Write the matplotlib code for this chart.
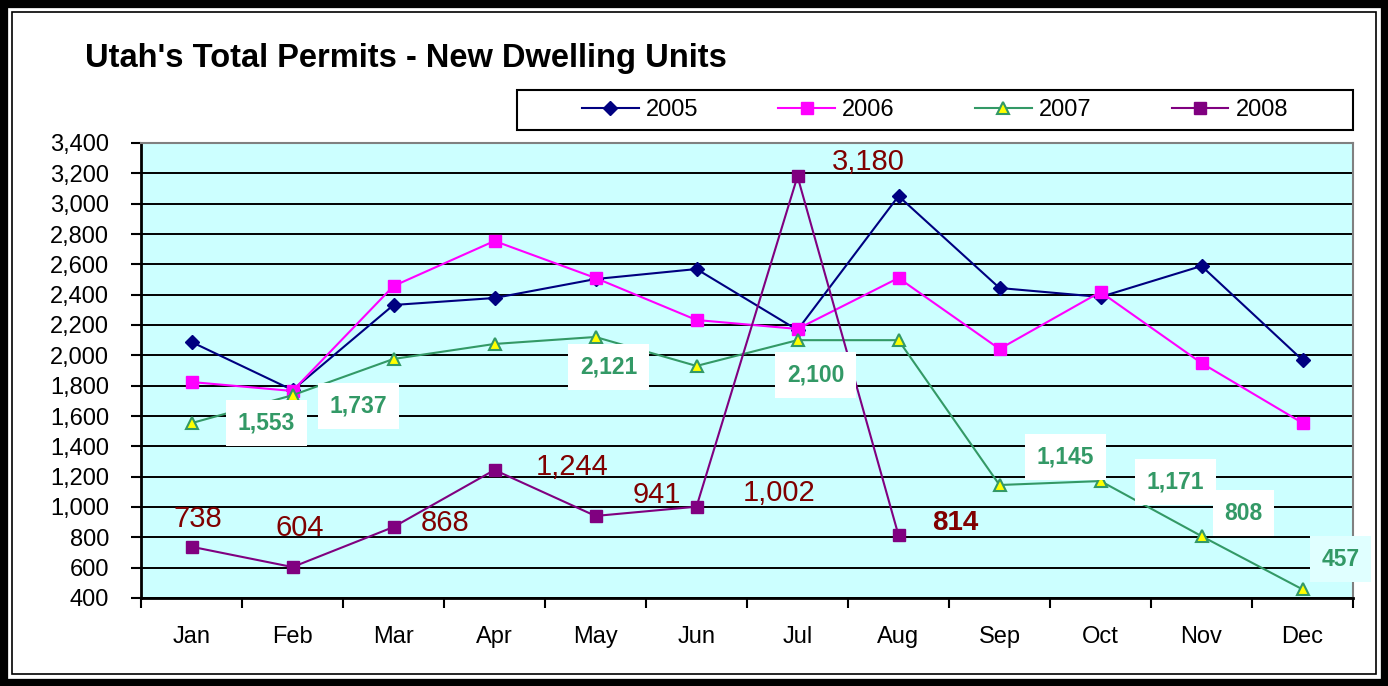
import numpy as np
import matplotlib
matplotlib.use('Agg')
import matplotlib.pyplot as plt
from matplotlib.patches import Rectangle
from matplotlib.ticker import FuncFormatter, FixedLocator

plt.rcParams['font.family'] = ['Liberation Sans', 'DejaVu Sans']

# data
months = ['Jan', 'Feb', 'Mar', 'Apr', 'May', 'Jun', 'Jul', 'Aug', 'Sep', 'Oct', 'Nov', 'Dec']
y2005 = [2088, 1771, 2332, 2378, 2503, 2569, 2167, 3050, 2444, 2385, 2589, 1969]
y2006 = [1824, 1765, 2457, 2754, 2510, 2233, 2174, 2510, 2042, 2418, 1949, 1554]
y2007 = [1553, 1737, 1976, 2075, 2121, 1930, 2100, 2100, 1145, 1171, 808, 457]
y2008 = [738, 604, 868, 1244, 941, 1002, 3180, 814]

# which 2007 points carry a label, and where the labels sit (pixels)
lab2007 = [0, 1, 4, 6, 8, 9, 10, 11]
off2007 = [(75, 0), (66, -11), (13, -30), (18, -35), (66, 28), (75, -1), (42, 23), (38, 30)]
off2008 = [(6, 28), (7, 39), (52, 4), (78, 3), (61, 21), (83, 14), (71, 14), (57, 12)]

fig = plt.figure(figsize=(13.88, 6.86), dpi=100)
ax = fig.add_axes([141 / 1388, 1 - 598 / 686, 1212 / 1388, 455 / 686])
ax.set_facecolor('#ccffff')

x = np.arange(len(months))
ax.plot(x, y2005, color='#000080', lw=1.5, marker='D', ms=7.5, label='2005', zorder=3)
ax.plot(x, y2006, color='#ff00ff', lw=1.5, marker='s', ms=9, label='2006', zorder=3)
ax.plot(x, y2007, color='#339966', lw=1.5, marker='^', ms=9, mfc='#ffff00', mec='#339966',
        mew=1.5, label='2007', zorder=3)
ax.plot(x[:len(y2008)], y2008, color='#800080', lw=1.5, marker='s', ms=8, label='2008', zorder=3)

for i, (dx, dy) in zip(lab2007, off2007):
    fc = '#e0ffff' if i == 11 else 'white'
    ax.annotate(f'{y2007[i]:,}', (x[i], y2007[i]), xytext=(dx, dy), textcoords='offset pixels',
                ha='center', va='center', color='#339966', fontsize=16.5, fontweight='bold',
                bbox=dict(boxstyle='square,pad=0.5', fc=fc, ec='none'), zorder=5,
                annotation_clip=False)

for i, (dx, dy) in enumerate(off2008):
    last = i == len(y2008) - 1
    ax.annotate(f'{y2008[i]:,}', (x[i], y2008[i]), xytext=(dx, dy), textcoords='offset pixels',
                ha='center', va='center', color='#800000', fontsize=21 if not last else 20,
                fontweight='bold' if last else 'normal', zorder=5)

ax.set_xlim(-0.5, 11.5)
ax.set_ylim(400, 3400)
ax.set_yticks(np.arange(400, 3401, 200))
ax.yaxis.set_major_formatter(FuncFormatter(lambda v, p: f'{int(v):,}'))
ax.grid(axis='y', color='black', lw=1.4)
ax.set_axisbelow(True)

ax.set_xticks(x)
ax.set_xticklabels(months)
ax.xaxis.set_minor_locator(FixedLocator(np.arange(-0.5, 12, 1)))
ax.tick_params(axis='x', which='major', length=0, pad=20, labelsize=17)
ax.tick_params(axis='x', which='minor', length=7, width=1.5, direction='out')
ax.tick_params(axis='y', length=7, width=1.5, pad=16, labelsize=17)

for s in ['left', 'bottom']:
    ax.spines[s].set_linewidth(2)
    ax.spines[s].set_color('black')
for s in ['top', 'right']:
    ax.spines[s].set_linewidth(1.5)
    ax.spines[s].set_color('#808080')

fig.text(85 / 1388, 1 - 58 / 686, "Utah's Total Permits - New Dwelling Units",
         fontsize=23.5, fontweight='bold', ha='left', va='center')

# legend box drawn by hand, entries centred in it
fig.patches.append(Rectangle((517 / 1388, 1 - 130 / 686), 836 / 1388, 40 / 686,
                             transform=fig.transFigure, fill=False, ec='black', lw=1.5))
fig.legend(loc='center', ncol=4, bbox_to_anchor=((517 + 836 / 2) / 1388, 1 - 110 / 686),
           fontsize=17, frameon=False, handlelength=2.4, handletextpad=0.3,
           columnspacing=3.4, borderaxespad=0)

# outer frame
fig.patches.append(Rectangle((0, 0), 1, 1, transform=fig.transFigure, fill=False,
                             ec='black', lw=11, zorder=10))
fig.patches.append(Rectangle((12 / 1388, 12 / 686), 1 - 24 / 1388, 1 - 24 / 686,
                             transform=fig.transFigure, fill=False, ec='black', lw=1.2, zorder=10))

fig.savefig('out.png', dpi=100)
